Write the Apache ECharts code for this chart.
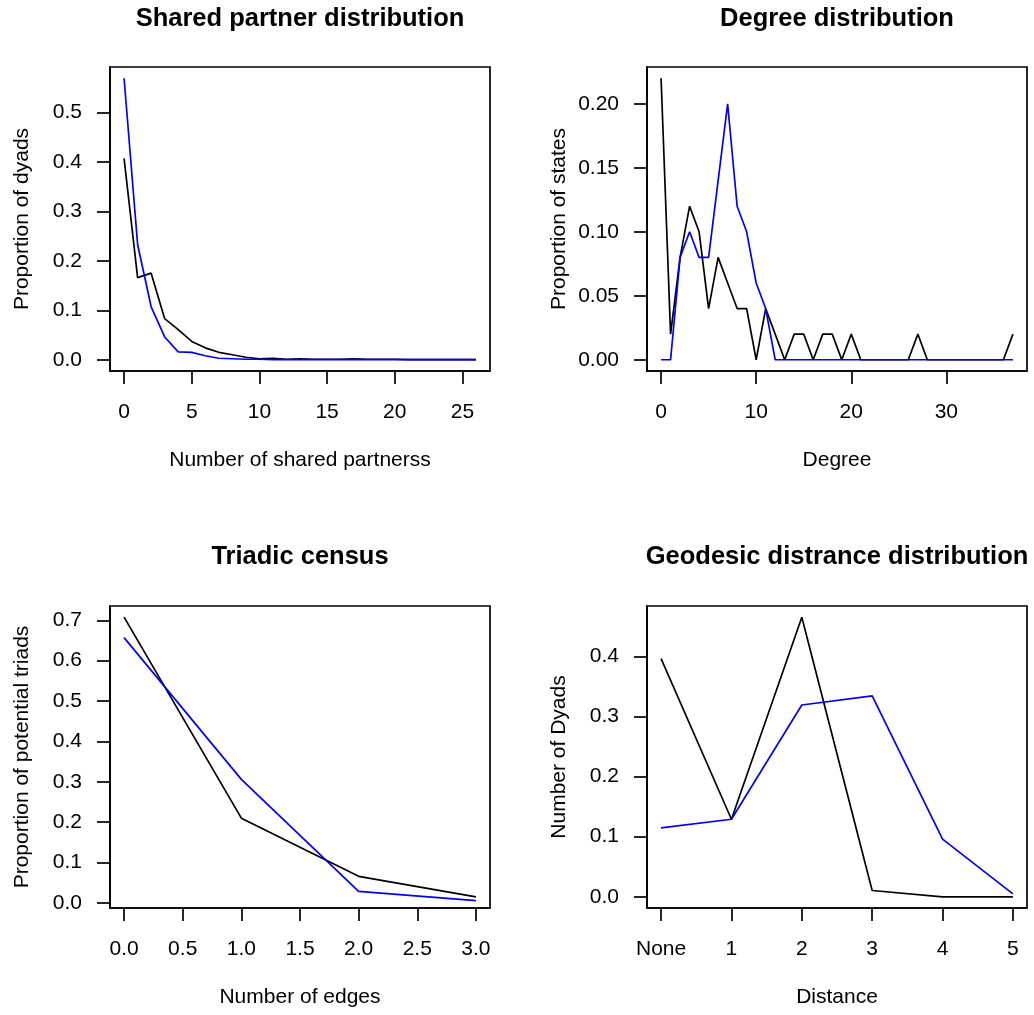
<!DOCTYPE html>
<html><head><meta charset="utf-8">
<script src="https://cdn.jsdelivr.net/npm/echarts@6/dist/echarts.min.js"></script>
<style>html,body{margin:0;padding:0;background:#fff}#c{width:1034px;height:1015px}</style>
</head><body><div id="c"></div>
<script>
// ---- data ----
const spX = [0,1,2,3,4,5,6,7,8,9,10,11,12,13,14,15,16,17,18,19,20,21,22,23,24,25,26];
const spObserved = [0.407,0.166,0.175,0.083,0.061,0.037,0.024,0.015,0.010,0.005,0.002,0.003,0.001,0.002,0.001,0.001,0.001,0.002,0.001,0.001,0.001,0,0,0,0,0,0];
const spSimulated = [0.569,0.233,0.107,0.046,0.016,0.015,0.008,0.003,0.002,0.001,0.001,0,0,0,0,0,0,0,0,0,0,0,0,0,0,0,0];
const spXTicks = [0,5,10,15,20,25];
const spYTicks = [0,0.1,0.2,0.3,0.4,0.5];

const degX = [0,1,2,3,4,5,6,7,8,9,10,11,12,13,14,15,16,17,18,19,20,21,22,23,24,25,26,27,28,29,30,31,32,33,34,35,36,37];
const degObserved = [0.22,0.02,0.08,0.12,0.10,0.04,0.08,0.06,0.04,0.04,0,0.04,0.02,0,0.02,0.02,0,0.02,0.02,0,0.02,0,0,0,0,0,0,0.02,0,0,0,0,0,0,0,0,0,0.02];
const degSimulated = [0,0,0.08,0.10,0.08,0.08,0.14,0.20,0.12,0.10,0.06,0.04,0,0,0,0,0,0,0,0,0,0,0,0,0,0,0,0,0,0,0,0,0,0,0,0,0,0];
const degXTicks = [0,10,20,30];
const degYTicks = [0,0.05,0.10,0.15,0.20];

const triX = [0,1,2,3];
const triObserved = [0.708,0.210,0.066,0.015];
const triSimulated = [0.657,0.306,0.029,0.006];
const triXTicks = [0,0.5,1,1.5,2,2.5,3];
const triYTicks = [0,0.1,0.2,0.3,0.4,0.5,0.6,0.7];

const geoX = [0,1,2,3,4,5];
const geoCategories = ['None','1','2','3','4','5'];
const geoObserved = [0.396,0.129,0.465,0.0105,0,0];
const geoSimulated = [0.1145,0.129,0.319,0.334,0.096,0.005];
const geoYTicks = [0,0.1,0.2,0.3,0.4];

const titles = ['Shared partner distribution','Degree distribution','Triadic census','Geodesic distrance distribution'];
const xNames = ['Number of shared partnerss','Degree','Number of edges','Distance'];
const yNames = ['Proportion of dyads','Proportion of states','Proportion of potential triads','Number of Dyads'];

// ---- layout / style ----
const FONT = '"Liberation Sans", Arial, Helvetica, sans-serif';
const LW = 1.7;
const grids = [
  {left:110, top:67, width:380, height:304},
  {left:647, top:67, width:380, height:304},
  {left:110, top:606, width:380, height:302},
  {left:647, top:606, width:380, height:302}
];
const xRanges = [[-1.04,27.04],[-1.48,38.48],[-0.12,3.12],[-0.2,5.2]];
const yRanges = [[-0.0228,0.5918],[-0.0088,0.2288],[-0.0124,0.7354],[-0.0186,0.4836]];

function fmtFixed(d){ return v => v.toFixed(d); }
const xTickSets = [spXTicks, degXTicks, triXTicks, geoX];
const xFormatters = [fmtFixed(0), fmtFixed(0), fmtFixed(1), v => geoCategories[Math.round(v)]];
const yTickSets = [spYTicks, degYTicks, triYTicks, geoYTicks];
const yFormatters = [fmtFixed(1), fmtFixed(2), fmtFixed(1), fmtFixed(1)];

const lineStyleAxis = {color:'#000', width:LW};
const textBase = {color:'#000', fontSize:21, fontFamily:FONT};

const xAxes = [], yAxes = [];
for (let i = 0; i < 4; i++) {
  xAxes.push({
    type:'value', gridIndex:i, min:xRanges[i][0], max:xRanges[i][1], position:'bottom',
    axisLine:{show:true, onZero:false, lineStyle:lineStyleAxis},
    axisTick:{show:true, inside:false, length:13, customValues:xTickSets[i], lineStyle:lineStyleAxis},
    axisLabel:Object.assign({show:true, customValues:xTickSets[i], margin:31, hideOverlap:false, formatter:xFormatters[i]}, textBase),
    splitLine:{show:false},
    name:xNames[i], nameLocation:'middle', nameGap:79, nameTextStyle:Object.assign({}, textBase)
  });
  yAxes.push({
    type:'value', gridIndex:i, min:yRanges[i][0], max:yRanges[i][1], position:'left',
    axisLine:{show:true, onZero:false, lineStyle:lineStyleAxis},
    axisTick:{show:true, inside:false, length:13, customValues:yTickSets[i], lineStyle:lineStyleAxis},
    axisLabel:Object.assign({show:true, customValues:yTickSets[i], margin:28, hideOverlap:false, formatter:yFormatters[i]}, textBase),
    splitLine:{show:false},
    name:yNames[i], nameLocation:'middle', nameGap:77, nameTextStyle:Object.assign({}, textBase)
  });
}

function pairs(xs, ys){ return xs.map((x, k) => [x, ys[k]]); }
const seriesDefs = [
  [spX, spObserved, spSimulated],
  [degX, degObserved, degSimulated],
  [triX, triObserved, triSimulated],
  [geoX, geoObserved, geoSimulated]
];
const series = [];
seriesDefs.forEach((d, i) => {
  series.push({type:'line', xAxisIndex:i, yAxisIndex:i, data:pairs(d[0], d[1]), showSymbol:false, symbol:'none',
    lineStyle:{color:'#000000', width:LW}, itemStyle:{color:'#000000'}, z:2});
  series.push({type:'line', xAxisIndex:i, yAxisIndex:i, data:pairs(d[0], d[2]), showSymbol:false, symbol:'none',
    lineStyle:{color:'#0000ff', width:LW}, itemStyle:{color:'#0000ff'}, z:3});
});

const titleGraphics = titles.map((t, i) => ({
  type:'text',
  x: grids[i].left + grids[i].width / 2,
  y: i < 2 ? 19 : 557,
  style:{text:t, align:'center', verticalAlign:'middle', fill:'#000', font:'bold 25.5px ' + FONT}
}));

const chart = echarts.init(document.getElementById('c'), null, {renderer:'canvas'});
chart.setOption({
  animation:false,
  backgroundColor:'#ffffff',
  grid: grids.map(g => Object.assign({show:true, borderColor:'#000', borderWidth:LW, backgroundColor:'transparent', containLabel:false}, g)),
  xAxis: xAxes,
  yAxis: yAxes,
  series: series,
  graphic: titleGraphics
});
</script></body></html>
